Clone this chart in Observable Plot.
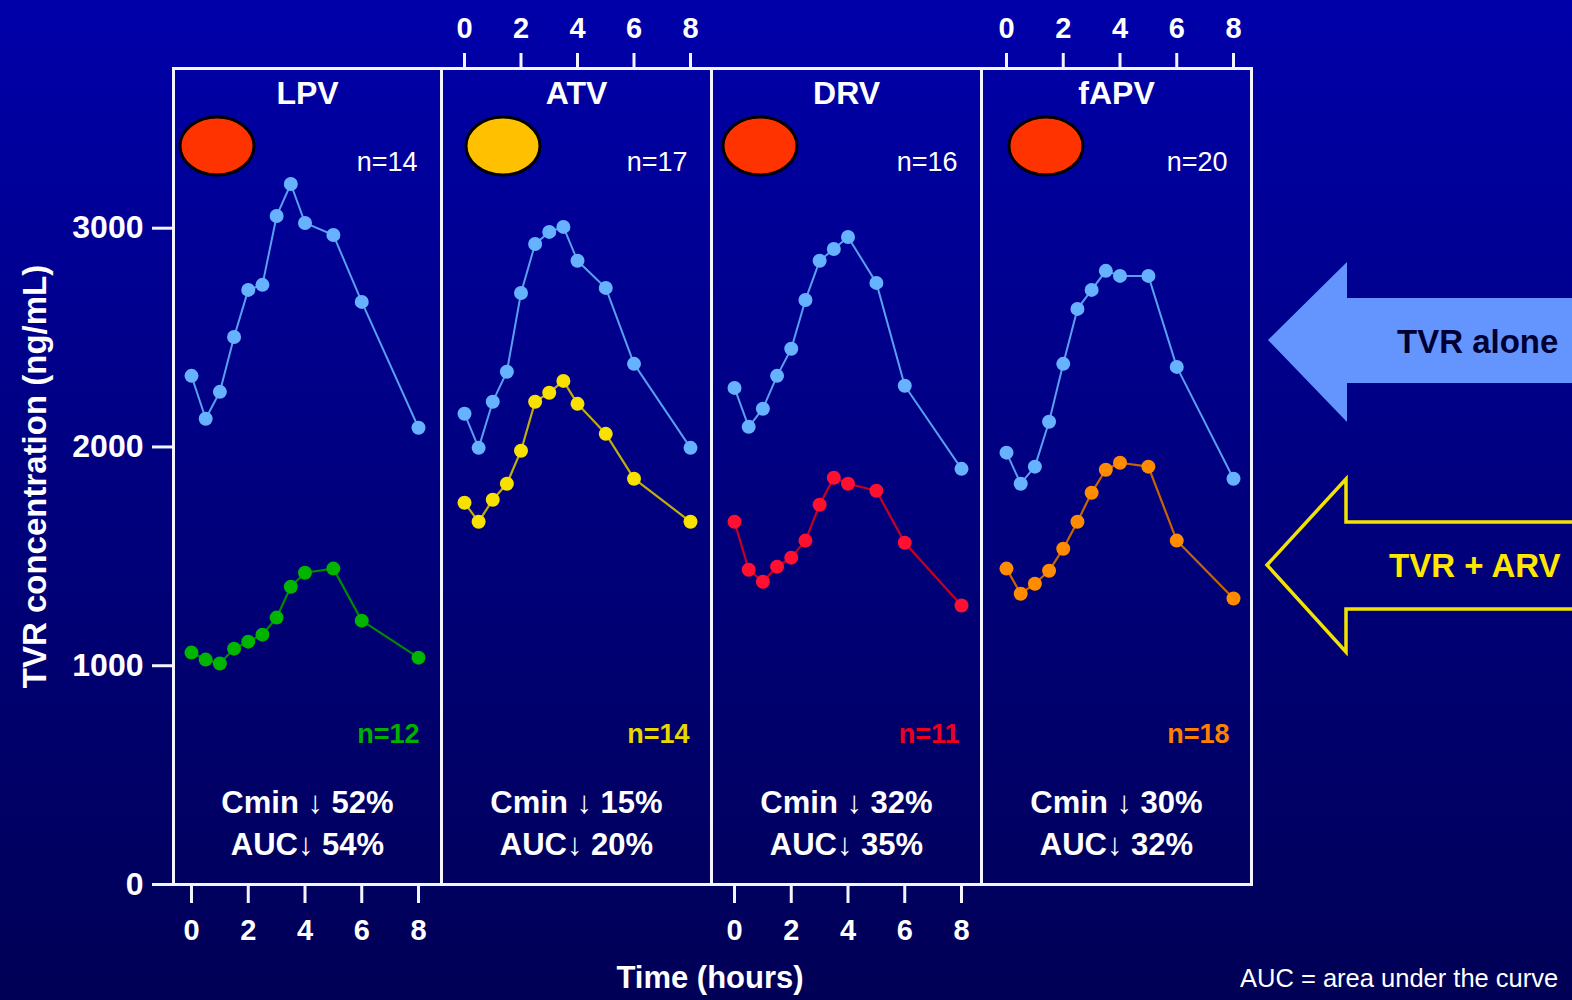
<!DOCTYPE html>
<html>
<head>
<meta charset="utf-8">
<script src="https://cdn.jsdelivr.net/npm/d3@7"></script>
<script src="https://cdn.jsdelivr.net/npm/@observablehq/plot@0.6"></script>
<style>
  html, body { margin: 0; padding: 0; }
  body { width: 1572px; height: 1000px; overflow: hidden;
         background: linear-gradient(to bottom, #0000AA 0%, #00007E 50%, #000056 100%);
         font-family: "Liberation Sans", Arial, sans-serif; }
  #stage { position: relative; width: 1572px; height: 1000px; }
  .panel { position: absolute; top: 0; }
  .lbl { position: absolute; white-space: nowrap; transform: translateY(-50%); }
  #deco { position: absolute; left: 0; top: 0; }
</style>
</head>
<body>
<div id="stage">
  <svg id="deco" width="1572" height="1000"></svg>
  <div class="lbl" id="xlabel" style="left:710px; top:978px; transform:translate(-50%,-50%); color:#fff; font-weight:bold; font-size:31px;"></div>
  <div class="lbl" id="foot" style="left:1240px; top:978px; color:#fff; font-size:25.5px;"></div>
  <div class="lbl" id="aloneLbl" style="left:1397px; top:342px; color:#000033; font-weight:bold; font-size:33px;"></div>
  <div class="lbl" id="arvLbl" style="left:1389px; top:566px; color:#FFE800; font-weight:bold; font-size:33px;"></div>
</div>
<script>
// ---------------- data ----------------
const panels = ["LPV", "ATV", "DRV", "fAPV"];
const hours = [0, 0.5, 1, 1.5, 2, 2.5, 3, 3.5, 4, 5, 6, 8];
const xTicks = [0, 2, 4, 6, 8];
const yTicks = [0, 1000, 2000, 3000];

const lpvAlone  = [2325, 2129, 2252, 2503, 2718, 2741, 3056, 3202, 3024, 2969, 2663, 2088];
const lpvArv    = [1060, 1028, 1010, 1078, 1110, 1142, 1220, 1361, 1425, 1444, 1206, 1037];
const atvAlone  = [2152, 1996, 2207, 2344, 2704, 2928, 2983, 3006, 2851, 2727, 2380, 1996];
const atvArv    = [1745, 1658, 1759, 1832, 1983, 2207, 2248, 2302, 2197, 2060, 1855, 1658];
const drvAlone  = [2270, 2092, 2175, 2325, 2449, 2672, 2851, 2905, 2960, 2750, 2280, 1900];
const drvArv    = [1658, 1439, 1384, 1453, 1494, 1572, 1736, 1859, 1832, 1800, 1562, 1275];
const fapvAlone = [1974, 1832, 1910, 2115, 2380, 2631, 2718, 2805, 2782, 2782, 2366, 1855];
const fapvArv   = [1444, 1329, 1375, 1434, 1535, 1658, 1791, 1896, 1928, 1910, 1572, 1307];

const nAlone = ["n=14", "n=17", "n=16", "n=20"];
const nArv   = ["n=12", "n=14", "n=11", "n=18"];
const cminText = ["Cmin \u2193 52%", "Cmin \u2193 15%", "Cmin \u2193 32%", "Cmin \u2193 30%"];
const aucText  = ["AUC\u2193 54%", "AUC\u2193 20%", "AUC\u2193 35%", "AUC\u2193 32%"];

const yLabel = "TVR concentration (ng/mL)";
const xLabel = "Time (hours)";
const footnote = "AUC = area under the curve";
const aloneLabel = "TVR alone";
const arvLabel = "TVR + ARV";

// ---------------- styles / layout ----------------
const aloneSeries = [lpvAlone, atvAlone, drvAlone, fapvAlone];
const arvSeries = [lpvArv, atvArv, drvArv, fapvArv];
const blueDot = "#66B2FF", blueLine = "#5A9EF0";
const arvDot  = ["#00B400", "#F8E000", "#FF1030", "#FF8C00"];
const arvLine = ["#008A00", "#C0AC10", "#C80020", "#C86400"];
const nArvColor = ["#00B000", "#E8D800", "#F00020", "#FF8000"];
const markerFill = ["#FF3300", "#FFC000", "#FF3300", "#FF3300"];
const panelLeft = [173, 441, 711, 981];
const panelRight = [441, 711, 981, 1251];
const insetL = [18, 23, 23, 25];
const insetR = [23, 21, 20, 18];
const topY = 68, bottomY = 884, H = 1000;
const font = '"Liberation Sans", Arial, sans-serif';

const stage = document.getElementById("stage");

panels.forEach((name, i) => {
  const first = i === 0;
  const anchor = (i % 2 === 0) ? "bottom" : "top";
  const rows = hours.map((t, j) => ({t, alone: aloneSeries[i][j], arv: arvSeries[i][j]}));
  const mL = first ? panelLeft[0] : 20;
  const mR = 20;
  const pw = panelRight[i] - panelLeft[i];
  const plot = Plot.plot({
    width: mL + pw + mR,
    height: H,
    marginTop: topY,
    marginBottom: H - bottomY,
    marginLeft: mL,
    marginRight: mR,
    x: {domain: [0, 8], insetLeft: insetL[i], insetRight: insetR[i]},
    y: {domain: [0, 3730], axis: first ? undefined : null},
    style: {background: "none", color: "white", fontFamily: font, overflow: "visible"},
    marks: [
      Plot.frame({stroke: "#F4F4FF", strokeWidth: 3}),
      Plot.axisX(xTicks, {anchor, tickSize: anchor === "bottom" ? 19 : 16,
        tickPadding: anchor === "bottom" ? 16 : 15, fontSize: 29, fontWeight: "bold",
        strokeWidth: 3, stroke: "#F4F4FF", label: null, tickFormat: d => String(d)}),
      first ? Plot.axisY(yTicks, {anchor: "left", tickSize: 21, tickPadding: 9, fontSize: 32,
        fontWeight: "bold", strokeWidth: 3, stroke: "#F4F4FF", label: null, tickFormat: d => String(d)}) : null,
      first ? Plot.text([yLabel], {frameAnchor: "left", dx: -138, rotate: -90, textAnchor: "middle",
        lineAnchor: "middle", text: d => d, fontSize: 33, fontWeight: "bold", fill: "white"}) : null,
      Plot.line(rows, {x: "t", y: "alone", stroke: blueLine, strokeWidth: 2}),
      Plot.dot(rows, {x: "t", y: "alone", r: 7, fill: blueDot}),
      Plot.line(rows, {x: "t", y: "arv", stroke: arvLine[i], strokeWidth: 2.2}),
      Plot.dot(rows, {x: "t", y: "arv", r: 7, fill: arvDot[i]}),
      Plot.text([name], {frameAnchor: "top", dy: 25, lineAnchor: "middle", text: d => d, fontSize: 32, fontWeight: "bold", fill: "white"}),
      Plot.text([nAlone[i]], {frameAnchor: "top-right", dx: -24, dy: 94, lineAnchor: "middle", text: d => d, fontSize: 27, fill: "white"}),
      Plot.text([nArv[i]], {frameAnchor: "bottom-right", dx: -22, dy: -150, lineAnchor: "middle", text: d => d, fontSize: 27, fontWeight: "bold", fill: nArvColor[i]}),
      Plot.text([cminText[i]], {frameAnchor: "bottom", dy: -81, lineAnchor: "middle", text: d => d, fontSize: 31, fontWeight: "bold", fill: "white"}),
      Plot.text([aucText[i]], {frameAnchor: "bottom", dy: -39, lineAnchor: "middle", text: d => d, fontSize: 31, fontWeight: "bold", fill: "white"})
    ]
  });
  plot.classList.add("panel");
  plot.style.left = (panelLeft[i] - mL) + "px";
  stage.appendChild(plot);
});

// ---------------- decoration: markers & arrows ----------------
const deco = d3.select("#deco");
const markerX = [217, 503, 760, 1046];
markerX.forEach((cx, i) => {
  deco.append("ellipse").attr("cx", cx).attr("cy", 146).attr("rx", 37).attr("ry", 29)
    .attr("fill", markerFill[i]).attr("stroke", "#000").attr("stroke-width", 3);
});
deco.append("polygon")
  .attr("points", "1268,340 1347,262 1347,298 1580,298 1580,383 1347,383 1347,422")
  .attr("fill", "#6495FF");
deco.append("polygon")
  .attr("points", "1267,565 1346,479 1346,522 1590,522 1590,609 1346,609 1346,652")
  .attr("fill", "none").attr("stroke", "#F2E200").attr("stroke-width", 3.5);

document.getElementById("xlabel").textContent = xLabel;
document.getElementById("foot").textContent = footnote;
document.getElementById("aloneLbl").textContent = aloneLabel;
document.getElementById("arvLbl").textContent = arvLabel;
</script>
</body>
</html>
